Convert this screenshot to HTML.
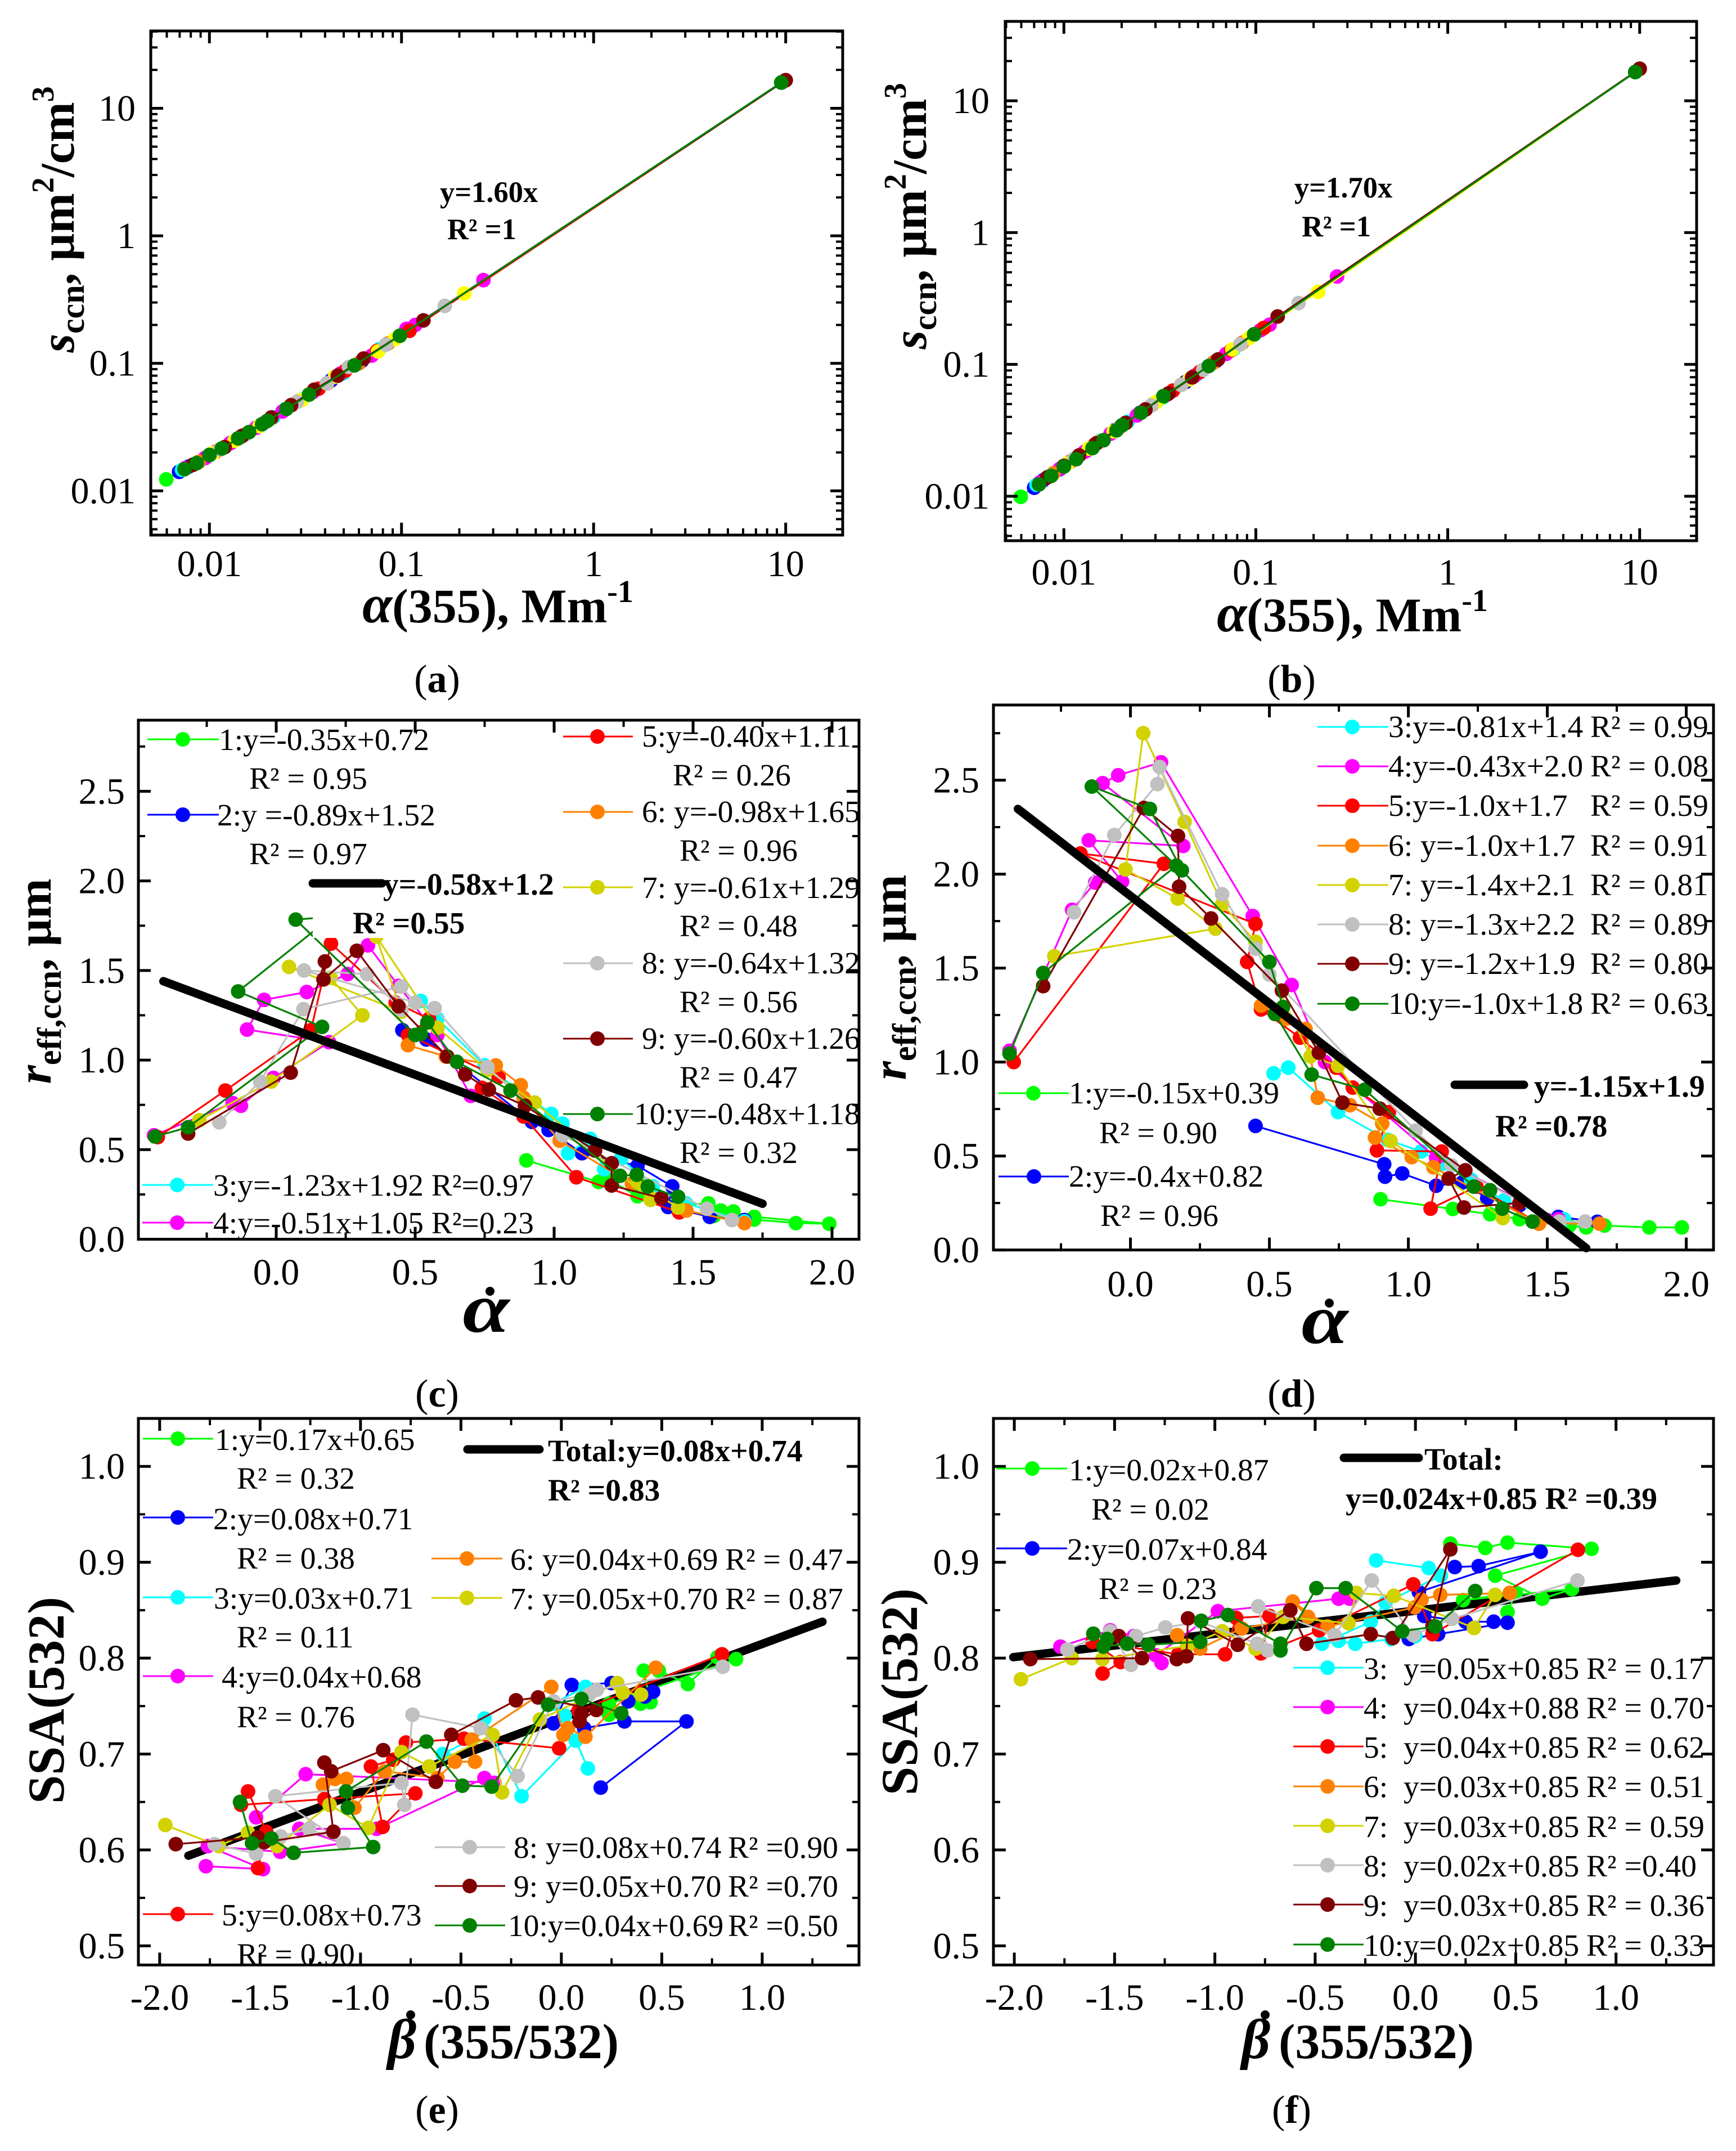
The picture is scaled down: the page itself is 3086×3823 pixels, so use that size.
<!DOCTYPE html>
<html lang="en">
<head>
<meta charset="utf-8">
<title>Six panel aerosol chart</title>
<style>
html,body{margin:0;padding:0;background:#fff}
svg{display:block}
text{font-family:"Liberation Serif","DejaVu Serif",serif;fill:#000}
.lg{font-size:55.5px}
.ttl{font-size:86px;font-weight:bold}
.tk{font-size:66px}
.bd{font-size:52.5px;font-weight:bold}
.bl{font-size:55.5px;font-weight:bold}
.cap{font-size:70px}
</style>
</head>
<body>
<svg id="chart" width="3086" height="3823" viewBox="0 0 3086 3823">
<rect x="0" y="0" width="3086" height="3823" fill="#fff"/>
<g id="plots"></g>

<g>
<text class="bd" x="782" y="359">y=1.60x</text>
<text class="bd" x="795" y="425">R² =1</text>
<text class="ttl" x="885" y="1106" text-anchor="middle"><tspan font-style="italic" font-size="96">α</tspan>(355), Mm<tspan dy="-36" font-size="56">-1</tspan></text>
<text class="ttl" transform="translate(131,390) rotate(-90)" text-anchor="middle"><tspan font-style="italic">s</tspan><tspan font-size="60" dy="18">ccn</tspan><tspan dy="-18">, μm</tspan><tspan font-size="56" dy="-36">2</tspan><tspan dy="36">/cm</tspan><tspan font-size="56" dy="-36">3</tspan></text>
<text class="cap" x="777" y="1230" text-anchor="middle">(<tspan font-weight="bold">a</tspan>)</text>
</g>

<g>
<text class="bd" x="2301" y="351">y=1.70x</text>
<text class="bd" x="2314" y="420">R² =1</text>
<text class="ttl" x="2404" y="1122" text-anchor="middle"><tspan font-style="italic" font-size="96">α</tspan>(355), Mm<tspan dy="-36" font-size="56">-1</tspan></text>
<text class="ttl" transform="translate(1646,384) rotate(-90)" text-anchor="middle"><tspan font-style="italic">s</tspan><tspan font-size="60" dy="18">ccn</tspan><tspan dy="-18">, μm</tspan><tspan font-size="56" dy="-36">2</tspan><tspan dy="36">/cm</tspan><tspan font-size="56" dy="-36">3</tspan></text>
<text class="cap" x="2296" y="1230" text-anchor="middle">(<tspan font-weight="bold">b</tspan>)</text>
</g>

<g>
<rect x="556" y="1553" width="428" height="114" fill="#fff"/>
<g><text class="ttl" transform="translate(864,2367) scale(1.2,1)" text-anchor="middle" style="font-size:125px" font-style="italic">α</text><circle cx="871" cy="2295" r="8" fill="#000"/></g>
<text class="ttl" transform="translate(90,1744) rotate(-90)" text-anchor="middle"><tspan font-style="italic">r</tspan><tspan font-size="60" dy="18">eff,ccn</tspan><tspan dy="-18">, μm</tspan></text>
<text class="cap" x="777" y="2500" text-anchor="middle">(<tspan font-weight="bold">c</tspan>)</text>
<g>
<g><line x1="262" x2="389" y1="1314" y2="1314" stroke="#00ff00" stroke-width="3"/><circle cx="325" cy="1314" r="13" fill="#00ff00"/><text class="lg" x="389" y="1333">1:y=-0.35x+0.72</text><text class="lg" x="443" y="1402">R² = 0.95</text></g>
<g><line x1="262" x2="389" y1="1448" y2="1448" stroke="#0000ff" stroke-width="3"/><circle cx="325" cy="1448" r="13" fill="#0000ff"/><text class="lg" x="386" y="1467">2:y =-0.89x+1.52</text><text class="lg" x="443" y="1536">R² = 0.97</text></g>
<g><line x1="253" x2="379" y1="2106" y2="2106" stroke="#00ffff" stroke-width="3"/><circle cx="315" cy="2106" r="13" fill="#00ffff"/><text class="lg" x="379" y="2125">3:y=-1.23x+1.92 R²=0.97</text></g>
<g><line x1="253" x2="379" y1="2173" y2="2173" stroke="#ff00ff" stroke-width="3"/><circle cx="315" cy="2173" r="13" fill="#ff00ff"/><text class="lg" x="379" y="2192">4:y=-0.51x+1.05 R²=0.23</text></g>
<g><line x1="1001" x2="1125" y1="1309" y2="1309" stroke="#ff0000" stroke-width="3"/><circle cx="1062" cy="1309" r="13" fill="#ff0000"/><text class="lg" x="1141" y="1327">5:y=-0.40x+1.11</text><text class="lg" x="1196" y="1396">R² = 0.26</text></g>
<g><line x1="1001" x2="1125" y1="1443" y2="1443" stroke="#ff8000" stroke-width="3"/><circle cx="1062" cy="1443" r="13" fill="#ff8000"/><text class="lg" x="1141" y="1461">6: y=-0.98x+1.65</text><text class="lg" x="1208" y="1530">R² = 0.96</text></g>
<g><line x1="1001" x2="1125" y1="1577" y2="1577" stroke="#d2d200" stroke-width="3"/><circle cx="1062" cy="1577" r="13" fill="#d2d200"/><text class="lg" x="1141" y="1596">7: y=-0.61x+1.29</text><text class="lg" x="1208" y="1664">R² = 0.48</text></g>
<g><line x1="1001" x2="1125" y1="1712" y2="1712" stroke="#c0c0c0" stroke-width="3"/><circle cx="1062" cy="1712" r="13" fill="#c0c0c0"/><text class="lg" x="1141" y="1730">8: y=-0.64x+1.32</text><text class="lg" x="1208" y="1799">R² = 0.56</text></g>
<g><line x1="1001" x2="1125" y1="1846" y2="1846" stroke="#800000" stroke-width="3"/><circle cx="1062" cy="1846" r="13" fill="#800000"/><text class="lg" x="1141" y="1864">9: y=-0.60x+1.26</text><text class="lg" x="1208" y="1933">R² = 0.47</text></g>
<g><line x1="1001" x2="1125" y1="1980" y2="1980" stroke="#008000" stroke-width="3"/><circle cx="1062" cy="1980" r="13" fill="#008000"/><text class="lg" x="1127" y="1998">10:y=-0.48x+1.18</text><text class="lg" x="1208" y="2067">R² = 0.32</text></g>
<g><line x1="556" x2="679" y1="1570" y2="1570" stroke="#000" stroke-width="15" stroke-linecap="round"/><text class="bl" x="681" y="1590">y=-0.58x+1.2</text><text class="bl" x="627" y="1659">R² =0.55</text></g>
</g>
</g>

<g>
<g><text class="ttl" transform="translate(2355,2387) scale(1.2,1)" text-anchor="middle" style="font-size:125px" font-style="italic">α</text><circle cx="2363" cy="2316" r="8" fill="#000"/></g>
<text class="ttl" transform="translate(1610,1737) rotate(-90)" text-anchor="middle"><tspan font-style="italic">r</tspan><tspan font-size="60" dy="18">eff,ccn</tspan><tspan dy="-18">, μm</tspan></text>
<text class="cap" x="2296" y="2500" text-anchor="middle">(<tspan font-weight="bold">d</tspan>)</text>
<g>
<g><line x1="1775" x2="1900" y1="1943" y2="1943" stroke="#00ff00" stroke-width="3"/><circle cx="1837" cy="1943" r="13" fill="#00ff00"/><text class="lg" x="1900" y="1961">1:y=-0.15x+0.39</text><text class="lg" x="1954" y="2032">R² = 0.90</text></g>
<g><line x1="1775" x2="1900" y1="2091" y2="2091" stroke="#0000ff" stroke-width="3"/><circle cx="1838" cy="2091" r="13" fill="#0000ff"/><text class="lg" x="1900" y="2109">2:y=-0.4x+0.82</text><text class="lg" x="1956" y="2179">R² = 0.96</text></g>
<g><line x1="2342" x2="2468" y1="1292" y2="1292" stroke="#00ffff" stroke-width="3"/><circle cx="2404" cy="1292" r="13" fill="#00ffff"/><text class="lg" x="2468" y="1310">3:y=-0.81x+1.4</text><text class="lg" x="2827" y="1310">R² = 0.99</text></g>
<g><line x1="2342" x2="2468" y1="1362" y2="1362" stroke="#ff00ff" stroke-width="3"/><circle cx="2404" cy="1362" r="13" fill="#ff00ff"/><text class="lg" x="2468" y="1380">4:y=-0.43x+2.0</text><text class="lg" x="2827" y="1380">R² = 0.08</text></g>
<g><line x1="2342" x2="2468" y1="1432" y2="1432" stroke="#ff0000" stroke-width="3"/><circle cx="2404" cy="1432" r="13" fill="#ff0000"/><text class="lg" x="2468" y="1450">5:y=-1.0x+1.7</text><text class="lg" x="2827" y="1450">R² = 0.59</text></g>
<g><line x1="2342" x2="2468" y1="1503" y2="1503" stroke="#ff8000" stroke-width="3"/><circle cx="2404" cy="1503" r="13" fill="#ff8000"/><text class="lg" x="2468" y="1521">6: y=-1.0x+1.7</text><text class="lg" x="2827" y="1521">R² = 0.91</text></g>
<g><line x1="2342" x2="2468" y1="1573" y2="1573" stroke="#d2d200" stroke-width="3"/><circle cx="2404" cy="1573" r="13" fill="#d2d200"/><text class="lg" x="2468" y="1591">7: y=-1.4x+2.1</text><text class="lg" x="2827" y="1591">R² = 0.81</text></g>
<g><line x1="2342" x2="2468" y1="1643" y2="1643" stroke="#c0c0c0" stroke-width="3"/><circle cx="2404" cy="1643" r="13" fill="#c0c0c0"/><text class="lg" x="2468" y="1661">8: y=-1.3x+2.2</text><text class="lg" x="2827" y="1661">R² = 0.89</text></g>
<g><line x1="2342" x2="2468" y1="1713" y2="1713" stroke="#800000" stroke-width="3"/><circle cx="2404" cy="1713" r="13" fill="#800000"/><text class="lg" x="2468" y="1731">9: y=-1.2x+1.9</text><text class="lg" x="2827" y="1731">R² = 0.80</text></g>
<g><line x1="2342" x2="2468" y1="1784" y2="1784" stroke="#008000" stroke-width="3"/><circle cx="2404" cy="1784" r="13" fill="#008000"/><text class="lg" x="2468" y="1802">10:y=-1.0x+1.8</text><text class="lg" x="2827" y="1802">R² = 0.63</text></g>
<g><line x1="2586" x2="2709" y1="1928" y2="1928" stroke="#000" stroke-width="15" stroke-linecap="round"/><text class="bl" x="2727" y="1949">y=-1.15x+1.9</text><text class="bl" x="2658" y="2020">R² =0.78</text></g>
</g>
</g>

<g>
<g><text class="ttl" x="689" y="3658" style="font-size:100px" font-style="italic">β</text><circle cx="730" cy="3581" r="8" fill="#000"/><text class="ttl" x="753" y="3658" style="font-size:88px">(355/532)</text></g>
<text class="ttl" style="font-size:92px" transform="translate(113,3022) rotate(-90)" text-anchor="middle">SSA(532)</text>
<text class="cap" x="777" y="3773" text-anchor="middle">(<tspan font-weight="bold">e</tspan>)</text>
<g>
<g><line x1="254" x2="379" y1="2557" y2="2557" stroke="#00ff00" stroke-width="3"/><circle cx="316" cy="2557" r="13" fill="#00ff00"/><text class="lg" x="382" y="2577">1:y=0.17x+0.65</text><text class="lg" x="421" y="2646">R² = 0.32</text></g>
<g><line x1="254" x2="379" y1="2697" y2="2697" stroke="#0000ff" stroke-width="3"/><circle cx="316" cy="2697" r="13" fill="#0000ff"/><text class="lg" x="379" y="2718">2:y=0.08x+0.71</text><text class="lg" x="421" y="2788">R² = 0.38</text></g>
<g><line x1="254" x2="379" y1="2839" y2="2839" stroke="#00ffff" stroke-width="3"/><circle cx="316" cy="2839" r="13" fill="#00ffff"/><text class="lg" x="380" y="2859">3:y=0.03x+0.71</text><text class="lg" x="421" y="2928">R² = 0.11</text></g>
<g><line x1="254" x2="379" y1="2979" y2="2979" stroke="#ff00ff" stroke-width="3"/><circle cx="316" cy="2979" r="13" fill="#ff00ff"/><text class="lg" x="394" y="2999">4:y=0.04x+0.68</text><text class="lg" x="421" y="3070">R² = 0.76</text></g>
<g><line x1="254" x2="379" y1="3402" y2="3402" stroke="#ff0000" stroke-width="3"/><circle cx="316" cy="3402" r="13" fill="#ff0000"/><text class="lg" x="394" y="3422">5:y=0.08x+0.73</text><text class="lg" x="421" y="3492">R² = 0.90</text></g>
<g><line x1="767" x2="893" y1="2770" y2="2770" stroke="#ff8000" stroke-width="3"/><circle cx="830" cy="2770" r="13" fill="#ff8000"/><text class="lg" x="907" y="2790">6: y=0.04x+0.69</text><text class="lg" x="1289" y="2790">R² = 0.47</text></g>
<g><line x1="767" x2="893" y1="2840" y2="2840" stroke="#d2d200" stroke-width="3"/><circle cx="830" cy="2840" r="13" fill="#d2d200"/><text class="lg" x="907" y="2860">7: y=0.05x+0.70</text><text class="lg" x="1289" y="2860">R² = 0.87</text></g>
<g><line x1="773" x2="898" y1="3283" y2="3283" stroke="#c0c0c0" stroke-width="3"/><circle cx="835" cy="3283" r="13" fill="#c0c0c0"/><text class="lg" x="913" y="3302">8: y=0.08x+0.74</text><text class="lg" x="1294" y="3302">R² =0.90</text></g>
<g><line x1="773" x2="898" y1="3352" y2="3352" stroke="#800000" stroke-width="3"/><circle cx="835" cy="3352" r="13" fill="#800000"/><text class="lg" x="913" y="3371">9: y=0.05x+0.70</text><text class="lg" x="1294" y="3371">R² =0.70</text></g>
<g><line x1="773" x2="898" y1="3422" y2="3422" stroke="#008000" stroke-width="3"/><circle cx="835" cy="3422" r="13" fill="#008000"/><text class="lg" x="903" y="3441">10:y=0.04x+0.69</text><text class="lg" x="1294" y="3441">R² =0.50</text></g>
<g><line x1="831" x2="959" y1="2576" y2="2576" stroke="#000" stroke-width="15" stroke-linecap="round"/><text class="bl" x="974" y="2597">Total:y=0.08x+0.74</text><text class="bl" x="974" y="2667">R² =0.83</text></g>
</g>
</g>

<g>
<g><text class="ttl" x="2207" y="3658" style="font-size:100px" font-style="italic">β</text><circle cx="2249" cy="3581" r="8" fill="#000"/><text class="ttl" x="2273" y="3658" style="font-size:88px">(355/532)</text></g>
<text class="ttl" style="font-size:92px" transform="translate(1630,3007) rotate(-90)" text-anchor="middle">SSA(532)</text>
<text class="cap" x="2296" y="3773" text-anchor="middle">(<tspan font-weight="bold">f</tspan>)</text>
<g>
<g><line x1="1771" x2="1897" y1="2610" y2="2610" stroke="#00ff00" stroke-width="3"/><circle cx="1835" cy="2610" r="13" fill="#00ff00"/><text class="lg" x="1900" y="2631">1:y=0.02x+0.87</text><text class="lg" x="1940" y="2701">R² = 0.02</text></g>
<g><line x1="1771" x2="1897" y1="2752" y2="2752" stroke="#0000ff" stroke-width="3"/><circle cx="1835" cy="2752" r="13" fill="#0000ff"/><text class="lg" x="1897" y="2772">2:y=0.07x+0.84</text><text class="lg" x="1953" y="2842">R² = 0.23</text></g>
<g><line x1="2299" x2="2424" y1="2964" y2="2964" stroke="#00ffff" stroke-width="3"/><circle cx="2360" cy="2964" r="13" fill="#00ffff"/><text class="lg" x="2424" y="2984">3:</text><text class="lg" x="2495" y="2984">y=0.05x+0.85</text><text class="lg" x="2820" y="2984">R² = 0.17</text></g>
<g><line x1="2299" x2="2424" y1="3034" y2="3034" stroke="#ff00ff" stroke-width="3"/><circle cx="2360" cy="3034" r="13" fill="#ff00ff"/><text class="lg" x="2424" y="3054">4:</text><text class="lg" x="2495" y="3054">y=0.04x+0.88</text><text class="lg" x="2820" y="3054">R² = 0.70</text></g>
<g><line x1="2299" x2="2424" y1="3104" y2="3104" stroke="#ff0000" stroke-width="3"/><circle cx="2360" cy="3104" r="13" fill="#ff0000"/><text class="lg" x="2424" y="3124">5:</text><text class="lg" x="2495" y="3124">y=0.04x+0.85</text><text class="lg" x="2820" y="3124">R² = 0.62</text></g>
<g><line x1="2299" x2="2424" y1="3175" y2="3175" stroke="#ff8000" stroke-width="3"/><circle cx="2360" cy="3175" r="13" fill="#ff8000"/><text class="lg" x="2424" y="3194">6:</text><text class="lg" x="2495" y="3194">y=0.03x+0.85</text><text class="lg" x="2820" y="3194">R² = 0.51</text></g>
<g><line x1="2299" x2="2424" y1="3245" y2="3245" stroke="#d2d200" stroke-width="3"/><circle cx="2360" cy="3245" r="13" fill="#d2d200"/><text class="lg" x="2424" y="3265">7:</text><text class="lg" x="2495" y="3265">y=0.03x+0.85</text><text class="lg" x="2820" y="3265">R² = 0.59</text></g>
<g><line x1="2299" x2="2424" y1="3315" y2="3315" stroke="#c0c0c0" stroke-width="3"/><circle cx="2360" cy="3315" r="13" fill="#c0c0c0"/><text class="lg" x="2424" y="3335">8:</text><text class="lg" x="2495" y="3335">y=0.02x+0.85</text><text class="lg" x="2820" y="3335">R² =0.40</text></g>
<g><line x1="2299" x2="2424" y1="3385" y2="3385" stroke="#800000" stroke-width="3"/><circle cx="2360" cy="3385" r="13" fill="#800000"/><text class="lg" x="2424" y="3405">9:</text><text class="lg" x="2495" y="3405">y=0.03x+0.85</text><text class="lg" x="2820" y="3405">R² = 0.36</text></g>
<g><line x1="2299" x2="2424" y1="3456" y2="3456" stroke="#008000" stroke-width="3"/><circle cx="2360" cy="3456" r="13" fill="#008000"/><text class="lg" x="2424" y="3476">10:y=0.02x+0.85</text><text class="lg" x="2820" y="3476">R² = 0.33</text></g>
<g><line x1="2389" x2="2522" y1="2591" y2="2591" stroke="#000" stroke-width="15" stroke-linecap="round"/><text class="bl" x="2532" y="2612">Total:</text><text class="bl" x="2392" y="2682">y=0.024x+0.85 R² =0.39</text></g>
</g>
</g>
</svg>

<script>
// ---------- colours ----------
const colorsScatter = ['#00ff00','#0000ff','#00ffff','#ff00ff','#ff0000','#ff8000','#d2d200','#c0c0c0','#800000','#008000'];
const colorsLog = ['#00ff00','#0000ff','#00ffff','#ff00ff','#ff0000','#ff8000','#ffff00','#c0c0c0','#800000','#008000'];

// ---------- tick labels ----------
const logTicks = [0.01,0.1,1,10];
const logLabels = ['0.01','0.1','1','10'];
const alphaTicks = [0,0.5,1,1.5,2];
const alphaLabels = ['0.0','0.5','1.0','1.5','2.0'];
const reffTicks = [0,0.5,1,1.5,2,2.5];
const reffLabels = ['0.0','0.5','1.0','1.5','2.0','2.5'];
const betaTicks = [-2,-1.5,-1,-0.5,0,0.5,1];
const betaLabels = ['-2.0','-1.5','-1.0','-0.5','0.0','0.5','1.0'];
const ssaTicks = [0.5,0.6,0.7,0.8,0.9,1];
const ssaLabels = ['0.5','0.6','0.7','0.8','0.9','1.0'];

// ---------- panel a ----------
const panelAX = [
[0.00596,0.0074,0.0101,0.0141,0.0201,0.033,0.098,9.48],
[0.00695,0.0078,0.0095,0.013,0.0185,0.025,0.043,0.062,9.6],
[0.0072,0.0088,0.0115,0.0155,0.0215,0.0305,0.0498,0.0766,9.7],
[0.0075,0.0095,0.0128,0.0175,0.024,0.0345,0.048,0.07,0.106,0.118,0.267,9.9],
[0.0082,0.0108,0.0145,0.0195,0.0268,0.037,0.051,0.0745,0.11,10],
[0.0088,0.0112,0.0152,0.021,0.029,0.041,0.06,0.085,9.95],
[0.0083,0.0105,0.0135,0.0182,0.0303,0.045,0.0755,0.0925,0.212,9.8],
[0.0084,0.0113,0.015,0.0192,0.0285,0.0408,0.0532,0.083,0.168,9.6],
[0.0082,0.01,0.012,0.0148,0.021,0.0266,0.0351,0.0466,0.0635,0.13,10],
[0.00742,0.00859,0.01,0.0116,0.0141,0.0161,0.0188,0.0201,0.0252,0.033,0.0569,0.098,9.48]];
const panelAY = [
[0.0123,0.0148,0.0193,0.0258,0.0355,0.0569,0.1645,15.9],
[0.0141,0.0155,0.0181,0.0239,0.0328,0.0437,0.0735,0.104,16.1],
[0.0146,0.0169,0.0213,0.0279,0.0377,0.0522,0.0838,0.129,16.2],
[0.0151,0.0181,0.0236,0.0312,0.0419,0.0594,0.083,0.115,0.186,0.2,0.449,16.5],
[0.016,0.0203,0.0264,0.0346,0.0472,0.0632,0.0875,0.125,0.18,16.6],
[0.0169,0.0209,0.0275,0.0372,0.0505,0.0696,0.1,0.143,16.5],
[0.0161,0.0198,0.0247,0.0322,0.0517,0.0785,0.124,0.155,0.353,16.3],
[0.0163,0.0211,0.0271,0.0341,0.0498,0.0696,0.0937,0.14,0.282,15.9],
[0.016,0.0191,0.022,0.027,0.0376,0.0469,0.062,0.08,0.109,0.217,16.6],
[0.0148,0.0165,0.0191,0.0215,0.0258,0.0289,0.0333,0.0355,0.044,0.0569,0.0964,0.1645,15.9]];

// ---------- panel b ----------
const panelBX = [
[0.00596,0.0074,0.0101,0.0141,0.0201,0.033,0.098,9.48],
[0.007,0.0078,0.0095,0.013,0.0185,0.025,0.043,0.062,9.6],
[0.0072,0.0088,0.0115,0.0155,0.0215,0.0305,0.0498,0.0766,9.7],
[0.0075,0.0095,0.0128,0.0175,0.024,0.0345,0.048,0.07,0.106,0.118,0.265,9.9],
[0.0082,0.0108,0.0145,0.0195,0.0268,0.037,0.051,0.0745,0.11,10],
[0.0088,0.0112,0.0152,0.021,0.029,0.041,0.06,0.085,9.95],
[0.0083,0.0105,0.0135,0.0182,0.0303,0.045,0.0755,0.0925,0.211,9.8],
[0.0084,0.0113,0.015,0.0192,0.0285,0.0408,0.0532,0.083,0.167,9.6],
[0.0082,0.01,0.012,0.0148,0.021,0.0266,0.0351,0.0466,0.0635,0.13,10],
[0.00742,0.00859,0.01,0.0116,0.0141,0.0161,0.0188,0.0201,0.0252,0.033,0.0569,0.098,9.48]];
const panelBY = [
[0.0099,0.0125,0.017,0.0237,0.0344,0.0565,0.168,16.5],
[0.0116,0.0132,0.016,0.022,0.0318,0.043,0.0735,0.106,16.7],
[0.0122,0.0149,0.0195,0.0264,0.0367,0.0522,0.085,0.13,16.8],
[0.0127,0.0161,0.0217,0.0298,0.041,0.059,0.082,0.12,0.182,0.2,0.464,17.2],
[0.0139,0.0183,0.0247,0.0333,0.0458,0.0633,0.0875,0.128,0.189,17.4],
[0.0149,0.019,0.0259,0.0359,0.0496,0.0703,0.103,0.146,17.3],
[0.0141,0.0178,0.023,0.0311,0.0519,0.077,0.13,0.159,0.355,17],
[0.0143,0.0192,0.0256,0.0328,0.0488,0.07,0.091,0.142,0.292,16.6],
[0.0139,0.017,0.0204,0.0252,0.036,0.0455,0.0602,0.0797,0.109,0.231,17.5],
[0.0123,0.01426,0.0168,0.0191,0.0232,0.0266,0.0316,0.0346,0.043,0.0575,0.0973,0.1695,16.5]];

// ---------- panel c ----------
const panelCX = [
[0.9,1.16,1.2,1.3,1.44,1.555,1.6,1.645,1.72,1.87,1.99,1.72,1.575],
[0.454,0.54,0.92,0.98,1.1,1.3,1.425,1.41,1.56,1.685],
[0.52,0.58,0.75,0.99,1.03,1.05,1.13,1.18,1.24,1.355,1.475,1.685],
[-0.44,-0.157,-0.127,-0.01,0.19,-0.105,-0.044,0.11,0.257,0.33,0.44,0.58,0.7],
[-0.426,-0.183,0.125,0.197,0.43,0.55,0.474,0.8,0.74,0.89,1.08,1.45],
[0.474,0.61,0.79,0.88,0.89,1.02,1.28,1.476,1.685],
[-0.277,-0.018,0.31,0.195,0.046,0.45,0.36,0.58,0.76,0.93,1.347,1.3,1.446],
[-0.205,-0.058,0.098,0.45,0.5,0.45,0.327,0.1,0.57,0.76,1.03,1.55,1.64],
[-0.317,0.052,0.175,0.17,0.29,0.44,0.615,0.68,0.765,0.895,1.147,1.207,1.207,1.386],
[-0.436,-0.317,0.165,-0.137,0.2,0.07,0.5,0.52,0.544,0.65,0.843,1.237,1.297,1.337,1.446]];
const panelCY = [
[0.44,0.32,0.33,0.24,0.19,0.2,0.16,0.155,0.11,0.09,0.086,0.125,0.13],
[1.167,1.115,0.655,0.61,0.48,0.41,0.295,0.18,0.125,0.107],
[1.33,1.23,0.97,0.7,0.645,0.48,0.56,0.39,0.45,0.295,0.2,0.1],
[0.58,0.76,0.745,0.9,1.1,1.17,1.336,1.38,1.48,1.64,1.414,1.14,0.8],
[0.57,0.83,1.167,1.65,1.32,1.23,1.14,0.905,0.845,0.685,0.346,0.15],
[1.083,1.02,0.97,0.86,0.79,0.55,0.31,0.16,0.09],
[0.664,0.88,1.25,1.46,1.52,1.27,1.69,1.18,0.945,0.763,0.22,0.32,0.177],
[0.653,0.88,1.284,1.41,1.32,1.28,1.48,1.5,1.29,0.96,0.58,0.17,0.107],
[0.59,0.93,1.55,1.45,1.61,1.3,1.02,0.92,0.835,0.745,0.495,0.424,0.3,0.23],
[0.573,0.625,1.185,1.383,1.8,1.784,1.14,1.146,1.21,0.99,0.83,0.354,0.36,0.294,0.237]];
const fitCX = [-0.406,1.75];
const fitCY = [1.44,0.198];

// ---------- panel d ----------
const panelDX = [
[0.9,1.16,1.294,1.4,1.58,1.64,1.706,1.867,1.984],
[0.45,0.913,0.916,0.978,1.1,1.195,1.284,1.4,1.54,1.68],
[0.515,0.568,0.747,0.926,1.046,1.125,1.225,1.344,1.56],
[-0.435,-0.21,-0.127,-0.03,-0.15,0.19,-0.1,-0.044,0.11,0.44,0.58,0.7,1.1,1.54],
[-0.42,0.12,-0.18,0.45,0.42,0.47,0.61,0.74,0.8,0.93,0.887,1.12,1.08,1.245,1.47],
[0.47,0.56,0.63,0.674,0.79,0.906,0.88,1.012,1.09,1.47,1.688],
[-0.274,0.306,0.17,-0.018,0.046,0.195,0.33,0.45,0.648,0.747,0.936,1.34],
[-0.203,-0.058,0.097,0.105,0.33,0.45,0.5,1.026,1.155,1.543,1.636],
[-0.314,0.048,0.171,0.175,0.29,0.545,0.678,0.763,0.897,1.205,1.145,1.2,1.4],
[-0.435,-0.314,0.165,-0.139,0.07,0.185,0.5,0.549,0.52,0.652,0.843,1.235,1.294,1.338,1.447]];
const panelDY = [
[0.27,0.218,0.19,0.164,0.13,0.12,0.13,0.12,0.12],
[0.66,0.456,0.39,0.407,0.342,0.36,0.275,0.238,0.176,0.15],
[0.94,0.97,0.734,0.586,0.524,0.46,0.375,0.263,0.164],
[1.06,1.81,1.955,1.96,2.18,2.15,2.484,2.526,2.595,1.777,1.41,1,0.49,0.164],
[1,2.055,2.11,1.735,1.533,1.28,1.13,0.97,0.864,0.734,0.53,0.524,0.22,0.337,0.14],
[1.3,1.23,1.176,0.81,0.77,0.672,0.598,0.494,0.44,0.14,0.14],
[1.563,1.71,1.87,2.025,2.75,2.278,1.84,1.64,1.03,0.98,0.58,0.17],
[1.797,2.208,2.479,2.57,1.893,1.603,1.466,0.635,0.45,0.151,0.151],
[1.404,2.352,2.203,1.933,1.764,1.38,1.05,0.784,0.752,0.424,0.38,0.226,0.25],
[1.045,1.474,2.045,2.466,2.347,2.02,1.533,1.293,1.256,0.933,0.853,0.337,0.318,0.22,0.151]];
const fitDX = [-0.405,1.64];
const fitDY = [2.347,0.01];

// ---------- panel e ----------
const panelEX = [
[0.237,0.394,0.444,0.41,0.485,0.63,0.777,0.87,0.237],
[0.196,0.623,0.314,0.113,-0.04,0.052,0.25,0.333,0.457,0.416],
[-0.59,-0.45,-0.383,-0.198,0.072,0.132,0.017,-0.04,0.12],
[-1.77,-1.485,-1.76,-1.4,-1.085,-1.305,-0.92,-0.383,-0.333,-1.273,-1.52],
[-1.51,-1.47,-1.56,-1.595,-1.18,-0.727,-0.89,-0.948,-0.837,-0.774,-0.485,-0.011,0.085,0.8],
[-1.187,-1.127,-1.07,-1.03,-0.88,-0.617,-0.53,-0.43,-0.446,-0.05,0.01,0.033,0.12,0.47],
[-1.972,-1.705,-1.56,-1.416,-1.154,-0.961,-0.796,-0.658,-0.342,-0.295,-0.107,0.278,0.306,0.397],
[-1.727,-1.52,-1.397,-1.256,-1.085,-1.424,-0.796,-0.782,-0.741,-0.402,-0.218,-0.039,0.14,0.176,0.804],
[-1.92,-1.512,-1.48,-1.135,-1.18,-1.146,-0.887,-0.625,-0.548,-0.226,-0.116,0.174,0.091,0.1],
[-1.6,-1.54,-1.444,-1.333,-0.937,-1.063,-1.072,-0.672,-0.493,-0.347,-0.066,0.1,0.298]];
const panelEY = [
[0.741,0.7525,0.754,0.787,0.787,0.773,0.801,0.799,0.7525],
[0.665,0.734,0.734,0.727,0.732,0.772,0.774,0.755,0.765,0.76],
[0.7,0.715,0.737,0.656,0.714,0.685,0.74,0.7525,0.77],
[0.583,0.58,0.604,0.598,0.607,0.622,0.622,0.675,0.67,0.679,0.634],
[0.581,0.619,0.661,0.647,0.653,0.659,0.624,0.687,0.694,0.712,0.716,0.706,0.745,0.804],
[0.668,0.674,0.674,0.644,0.682,0.675,0.692,0.692,0.715,0.77,0.72,0.727,0.718,0.79],
[0.626,0.604,0.618,0.604,0.647,0.623,0.702,0.687,0.72,0.66,0.736,0.774,0.764,0.762],
[0.606,0.596,0.614,0.622,0.607,0.656,0.67,0.647,0.741,0.727,0.677,0.755,0.7625,0.767,0.791],
[0.606,0.613,0.608,0.619,0.691,0.682,0.704,0.671,0.72,0.756,0.759,0.746,0.734,0.7425],
[0.65,0.607,0.612,0.597,0.603,0.644,0.661,0.713,0.667,0.666,0.7515,0.7575,0.7425]];
const fitEX = [-1.857,1.3];
const fitEY = [0.594,0.838];

// ---------- panel f ----------
const panelFX = [
[0.174,0.348,0.459,0.878,0.398,0.633,0.78,0.238,0.5,0.459],
[0.196,0.315,0.624,0.017,0.044,0.25,0.39,0.459,-0.033,0.113],
[-0.196,0.066,0.127,-0.149,-0.223,-0.466,-0.383,-0.3,-0.12,0],
[-1.77,-1.522,-1.404,-1.266,-1.294,-0.985,-0.383,-0.328],
[-1.56,-1.47,-1.61,-1.183,-0.949,-0.894,-0.728,-0.77,-0.48,-0.011,0.085,0.81],
[-1.188,-1.073,-0.866,-0.535,-0.612,-0.438,-0.003,0.03,0.124,0.47],
[-1.967,-1.713,-1.561,-1.137,-0.963,-0.797,-0.66,-0.334,-0.295,-0.108,0.292,0.397],
[-1.735,-1.522,-1.418,-1.393,-1.247,-1.073,-0.789,-0.737,-0.784,-0.403,-0.218,-0.011,0.182,0.808],
[-1.92,-1.363,-1.479,-1.19,-1.142,-1.134,-0.886,-0.624,-0.543,-0.223,-0.113,0.174,0.085],
[-1.606,-1.537,-1.556,-1.437,-1.332,-1.073,-1.068,-0.935,-0.673,-0.673,-0.494,-0.348,-0.066,0.099,0.298]];
const panelFY = [
[0.9195,0.915,0.9205,0.914,0.886,0.862,0.872,0.8605,0.868,0.848],
[0.895,0.896,0.911,0.869,0.844,0.838,0.838,0.837,0.82,0.825],
[0.902,0.894,0.886,0.858,0.838,0.815,0.818,0.815,0.82,0.823],
[0.812,0.829,0.823,0.795,0.803,0.849,0.862,0.862],
[0.784,0.796,0.817,0.804,0.804,0.842,0.844,0.805,0.829,0.877,0.825,0.913],
[0.824,0.81,0.831,0.843,0.859,0.833,0.853,0.861,0.866,0.868],
[0.778,0.8,0.799,0.813,0.828,0.81,0.843,0.8365,0.868,0.865,0.8315,0.866],
[0.809,0.828,0.793,0.823,0.832,0.838,0.815,0.808,0.854,0.824,0.881,0.824,0.841,0.881],
[0.799,0.8,0.823,0.799,0.802,0.8415,0.814,0.85,0.815,0.825,0.821,0.9135,0.833],
[0.8255,0.82,0.812,0.815,0.814,0.817,0.839,0.845,0.815,0.808,0.873,0.873,0.828,0.833,0.87]];
const fitFX = [-2.005,1.3];
const fitFY = [0.801,0.881];

// ---------- drawing ----------
const SVG_NS = 'http://www.w3.org/2000/svg';
const plots = document.getElementById('plots');

function make(tag, parent, attrs) {
  const el = document.createElementNS(SVG_NS, tag);
  for (const k in attrs) el.setAttribute(k, attrs[k]);
  parent.appendChild(el);
  return el;
}
function scaleLinear(domain, range) {
  return v => range[0] + (v - domain[0]) / (domain[1] - domain[0]) * (range[1] - range[0]);
}
function scaleLog(domain, range) {
  const a = Math.log10(domain[0]), b = Math.log10(domain[1]);
  return v => range[0] + (Math.log10(v) - a) / (b - a) * (range[1] - range[0]);
}
function tickValues(cfgAxis) {
  const out = [];
  if (cfgAxis.log) {
    for (let e = -3; e <= 2; e++) {
      for (let m = 1; m <= 9; m++) {
        const v = m * Math.pow(10, e);
        if (v >= cfgAxis.domain[0] && v <= cfgAxis.domain[1]) out.push({v: v, major: m === 1});
      }
    }
  } else {
    const n0 = Math.ceil(cfgAxis.domain[0] / cfgAxis.minor - 1e-6);
    const n1 = Math.floor(cfgAxis.domain[1] / cfgAxis.minor + 1e-6);
    const ratio = Math.round(cfgAxis.major / cfgAxis.minor);
    for (let n = n0; n <= n1; n++) out.push({v: n * cfgAxis.minor, major: n % ratio === 0});
  }
  return out;
}

function drawPanel(c) {
  const g = make('g', plots, {});
  
  
  const b = c.box;
  const sx = (c.x.log ? scaleLog : scaleLinear)(c.x.domain, [b[0], b[2]]);
  const sy = (c.y.log ? scaleLog : scaleLinear)(c.y.domain, [b[3], b[1]]);

  function drawFit() {
    if (!c.fitX) return;
    const fit = make('line', g, {x1: sx(c.fitX[0]), y1: sy(c.fitY[0]), x2: sx(c.fitX[1]), y2: sy(c.fitY[1]), stroke: '#000', 'stroke-width': 15, 'stroke-linecap': 'round'});
    
    
  }
  if (c.fitX && !c.fitOnTop) drawFit();

  c.seriesX.forEach((xs, i) => {
    const ys = c.seriesY[i];
    const sg = make('g', g, {});
    
    
    const pts = xs.map((x, k) => sx(x).toFixed(1) + ',' + sy(ys[k]).toFixed(1)).join(' ');
    const line = make('polyline', sg, {points: pts, fill: 'none', stroke: c.colors[i], 'stroke-width': 3.2});
    
    
    xs.forEach((x, k) => {
      const dot = make('circle', sg, {cx: sx(x), cy: sy(ys[k]), r: 13, fill: c.colors[i]});
      
      
    });
  });
  if (c.fitX && c.fitOnTop) drawFit();

  const axisG = make('g', g, {});
  
  
  const frame = make('rect', axisG, {x: b[0], y: b[1], width: b[2] - b[0], height: b[3] - b[1], fill: 'none', stroke: '#000', 'stroke-width': 5});
  
  

  tickValues(c.x).forEach(t => {
    const L = t.major ? 22 : 12, px = sx(t.v);
    [[b[3], b[3] - L], [b[1], b[1] + L]].forEach(p => {
      const tk = make('line', axisG, {x1: px, x2: px, y1: p[0], y2: p[1], stroke: '#000', 'stroke-width': t.major ? 5 : 4});
      
      
    });
  });
  tickValues(c.y).forEach(t => {
    const L = t.major ? 22 : 12, py = sy(t.v);
    [[b[0], b[0] + L], [b[2], b[2] - L]].forEach(p => {
      const tk = make('line', axisG, {x1: p[0], x2: p[1], y1: py, y2: py, stroke: '#000', 'stroke-width': t.major ? 5 : 4});
      
      
    });
  });
  c.x.ticks.forEach((v, i) => {
    const lb = make('text', axisG, {x: sx(v), y: c.xLabelY, 'text-anchor': 'middle', class: 'tk'});
    lb.textContent = c.x.labels[i];
    
    
  });
  c.y.ticks.forEach((v, i) => {
    const lb = make('text', axisG, {x: c.yLabelX, y: sy(v) + 22, 'text-anchor': 'end', class: 'tk'});
    lb.textContent = c.y.labels[i];
    
    
  });
}

drawPanel({id:'a', box:[268,55,1498,951], colors:colorsLog, seriesX:panelAX, seriesY:panelAY,
  x:{log:true, domain:[0.00495,19.8], ticks:logTicks, labels:logLabels},
  y:{log:true, domain:[0.0045,40.4], ticks:logTicks, labels:logLabels}, xLabelY:1024, yLabelX:241});
drawPanel({id:'b', box:[1787,38,3016,961], colors:colorsLog, seriesX:panelBX, seriesY:panelBY,
  x:{log:true, domain:[0.00495,19.8], ticks:logTicks, labels:logLabels},
  y:{log:true, domain:[0.0046,40], ticks:logTicks, labels:logLabels}, xLabelY:1039, yLabelX:1759});
drawPanel({id:'c', box:[246,1280,1527,2202.5], colors:colorsScatter, seriesX:panelCX, seriesY:panelCY, fitX:fitCX, fitY:fitCY, fitOnTop:true,
  x:{domain:[-0.496,2.097], major:0.5, minor:0.25, ticks:alphaTicks, labels:alphaLabels},
  y:{domain:[0,2.897], major:0.5, minor:0.25, ticks:reffTicks, labels:reffLabels}, xLabelY:2283, yLabelX:222});
drawPanel({id:'d', box:[1766,1253,3046,2221.6], colors:colorsScatter, seriesX:panelDX, seriesY:panelDY, fitX:fitDX, fitY:fitDY, fitOnTop:true,
  x:{domain:[-0.493,2.098], major:0.5, minor:0.25, ticks:alphaTicks, labels:alphaLabels},
  y:{domain:[0,2.9], major:0.5, minor:0.25, ticks:reffTicks, labels:reffLabels}, xLabelY:2304, yLabelX:1741});
drawPanel({id:'e', box:[246,2521,1527,3492.4], colors:colorsScatter, seriesX:panelEX, seriesY:panelEY, fitX:fitEX, fitY:fitEY,
  x:{domain:[-2.106,1.482], major:0.5, minor:0.25, ticks:betaTicks, labels:betaLabels},
  y:{domain:[0.48,1.05], major:0.1, minor:0.05, ticks:ssaTicks, labels:ssaLabels}, xLabelY:3572, yLabelX:222});
drawPanel({id:'f', box:[1766,2521,3046,3492.4], colors:colorsScatter, seriesX:panelFX, seriesY:panelFY, fitX:fitFX, fitY:fitFY,
  x:{domain:[-2.104,1.486], major:0.5, minor:0.25, ticks:betaTicks, labels:betaLabels},
  y:{domain:[0.48,1.05], major:0.1, minor:0.05, ticks:ssaTicks, labels:ssaLabels}, xLabelY:3572, yLabelX:1741});
</script>
</body>
</html>
